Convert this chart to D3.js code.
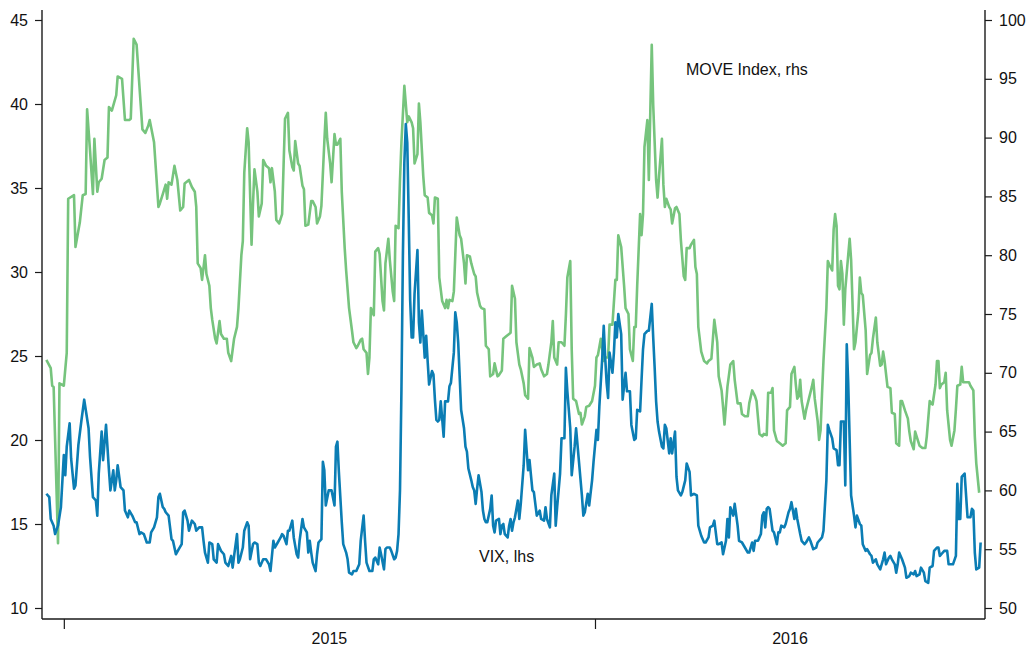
<!DOCTYPE html>
<html>
<head>
<meta charset="utf-8">
<script src="https://cdn.jsdelivr.net/npm/d3@7"></script>
<style>
  html, body { margin: 0; padding: 0; background: #fff; }
  svg { display: block; }
  text { font-family: "Liberation Sans", Arial, Helvetica, sans-serif; }
</style>
</head>
<body>
<svg id="chart" width="1027" height="648"></svg>
<script>
// VIX, daily (left-hand scale)
const vixDates = [
  "2014-12-20","2014-12-22","2014-12-23","2014-12-25","2014-12-26","2014-12-28","2014-12-30","2015-01-01","2015-01-02","2015-01-03",
  "2015-01-05","2015-01-06","2015-01-08","2015-01-09","2015-01-11","2015-01-13","2015-01-15","2015-01-18","2015-01-19","2015-01-21",
  "2015-01-23","2015-01-24","2015-01-25","2015-01-27","2015-01-28","2015-01-30","2015-02-01","2015-02-02","2015-02-04","2015-02-05",
  "2015-02-06","2015-02-07","2015-02-09","2015-02-11","2015-02-12","2015-02-14","2015-02-15","2015-02-17","2015-02-19","2015-02-20",
  "2015-02-22","2015-02-23","2015-02-25","2015-02-27","2015-03-01","2015-03-02","2015-03-04","2015-03-06","2015-03-07","2015-03-08",
  "2015-03-10","2015-03-11","2015-03-12","2015-03-14","2015-03-16","2015-03-17","2015-03-19","2015-03-21","2015-03-23","2015-03-24",
  "2015-03-25","2015-03-27","2015-03-28","2015-03-30","2015-04-01","2015-04-02","2015-04-04","2015-04-06","2015-04-07","2015-04-08",
  "2015-04-10","2015-04-11","2015-04-13","2015-04-14","2015-04-16","2015-04-17","2015-04-19","2015-04-21","2015-04-22","2015-04-24",
  "2015-04-26","2015-04-27","2015-04-28","2015-04-30","2015-05-01","2015-05-02","2015-05-04","2015-05-05","2015-05-07","2015-05-08",
  "2015-05-09","2015-05-11","2015-05-12","2015-05-14","2015-05-15","2015-05-16","2015-05-18","2015-05-20","2015-05-22","2015-05-23",
  "2015-05-25","2015-05-26","2015-05-28","2015-05-30","2015-05-31","2015-06-01","2015-06-03","2015-06-04","2015-06-05","2015-06-07",
  "2015-06-08","2015-06-10","2015-06-11","2015-06-12","2015-06-14","2015-06-15","2015-06-17","2015-06-18","2015-06-19","2015-06-20",
  "2015-06-21","2015-06-23","2015-06-24","2015-06-25","2015-06-27","2015-06-28","2015-06-29","2015-06-30","2015-07-02","2015-07-03",
  "2015-07-04","2015-07-06","2015-07-07","2015-07-08","2015-07-09","2015-07-11","2015-07-12","2015-07-14","2015-07-15","2015-07-16",
  "2015-07-18","2015-07-19","2015-07-21","2015-07-23","2015-07-24","2015-07-26","2015-07-27","2015-07-28","2015-07-30","2015-08-01",
  "2015-08-02","2015-08-03","2015-08-05","2015-08-06","2015-08-07","2015-08-09","2015-08-10","2015-08-11","2015-08-13","2015-08-14",
  "2015-08-16","2015-08-17","2015-08-18","2015-08-19","2015-08-20","2015-08-21","2015-08-22","2015-08-23","2015-08-24","2015-08-25",
  "2015-08-26","2015-08-27","2015-08-28","2015-08-29","2015-08-30","2015-09-01","2015-09-02","2015-09-03","2015-09-04","2015-09-06",
  "2015-09-07","2015-09-08","2015-09-09","2015-09-11","2015-09-12","2015-09-13","2015-09-14","2015-09-15","2015-09-16","2015-09-17",
  "2015-09-19","2015-09-20","2015-09-21","2015-09-22","2015-09-23","2015-09-24","2015-09-26","2015-09-27","2015-09-28","2015-09-29",
  "2015-09-30","2015-10-01","2015-10-03","2015-10-04","2015-10-05","2015-10-06","2015-10-08","2015-10-09","2015-10-10","2015-10-11",
  "2015-10-12","2015-10-13","2015-10-15","2015-10-16","2015-10-17","2015-10-18","2015-10-19","2015-10-21","2015-10-22","2015-10-23",
  "2015-10-24","2015-10-25","2015-10-27","2015-10-28","2015-10-29","2015-10-30","2015-10-31","2015-11-02","2015-11-03","2015-11-04",
  "2015-11-05","2015-11-06","2015-11-07","2015-11-09","2015-11-10","2015-11-11","2015-11-13","2015-11-14","2015-11-16","2015-11-17",
  "2015-11-19","2015-11-20","2015-11-22","2015-11-24","2015-11-25","2015-11-27","2015-11-28","2015-11-29","2015-12-01","2015-12-02",
  "2015-12-04","2015-12-05","2015-12-06","2015-12-08","2015-12-09","2015-12-11","2015-12-12","2015-12-13","2015-12-15","2015-12-16",
  "2015-12-18","2015-12-19","2015-12-21","2015-12-23","2015-12-24","2015-12-25","2015-12-27","2015-12-28","2015-12-30","2015-12-31",
  "2016-01-02","2016-01-03","2016-01-04","2016-01-06","2016-01-07","2016-01-08","2016-01-09","2016-01-10","2016-01-11","2016-01-13",
  "2016-01-14","2016-01-15","2016-01-16","2016-01-17","2016-01-19","2016-01-20","2016-01-22","2016-01-23","2016-01-25","2016-01-26",
  "2016-01-28","2016-01-29","2016-01-30","2016-02-01","2016-02-02","2016-02-03","2016-02-04","2016-02-06","2016-02-07","2016-02-09",
  "2016-02-10","2016-02-11","2016-02-12","2016-02-13","2016-02-14","2016-02-16","2016-02-17","2016-02-18","2016-02-19","2016-02-21",
  "2016-02-22","2016-02-23","2016-02-25","2016-02-26","2016-02-27","2016-02-29","2016-03-01","2016-03-03","2016-03-04","2016-03-06",
  "2016-03-07","2016-03-09","2016-03-11","2016-03-12","2016-03-14","2016-03-16","2016-03-17","2016-03-19","2016-03-20","2016-03-22",
  "2016-03-23","2016-03-25","2016-03-26","2016-03-28","2016-03-29","2016-03-31","2016-04-01","2016-04-02","2016-04-03","2016-04-05",
  "2016-04-06","2016-04-08","2016-04-09","2016-04-11","2016-04-13","2016-04-15","2016-04-16","2016-04-18","2016-04-19","2016-04-20",
  "2016-04-22","2016-04-24","2016-04-25","2016-04-26","2016-04-27","2016-04-28","2016-04-29","2016-04-30","2016-05-02","2016-05-03",
  "2016-05-05","2016-05-06","2016-05-07","2016-05-08","2016-05-10","2016-05-11","2016-05-13","2016-05-14","2016-05-15","2016-05-17",
  "2016-05-18","2016-05-19","2016-05-21","2016-05-22","2016-05-24","2016-05-25","2016-05-27","2016-05-28","2016-05-30","2016-06-01",
  "2016-06-02","2016-06-04","2016-06-05","2016-06-06","2016-06-08","2016-06-09","2016-06-10","2016-06-12","2016-06-13","2016-06-15",
  "2016-06-16","2016-06-17","2016-06-18","2016-06-20","2016-06-21","2016-06-22","2016-06-23","2016-06-24","2016-06-25","2016-06-27",
  "2016-06-28","2016-06-29","2016-07-01","2016-07-02","2016-07-03","2016-07-05","2016-07-06","2016-07-08","2016-07-09","2016-07-10",
  "2016-07-12","2016-07-13","2016-07-15","2016-07-17","2016-07-18","2016-07-19","2016-07-21","2016-07-22","2016-07-23","2016-07-25",
  "2016-07-26","2016-07-27","2016-07-28","2016-07-30","2016-08-01","2016-08-02","2016-08-04","2016-08-05","2016-08-07","2016-08-08",
  "2016-08-09","2016-08-11","2016-08-12","2016-08-14","2016-08-15","2016-08-17","2016-08-18","2016-08-20","2016-08-21","2016-08-23",
  "2016-08-24","2016-08-25","2016-08-26","2016-08-28","2016-08-30","2016-08-31","2016-09-02","2016-09-03","2016-09-05","2016-09-06",
  "2016-09-07","2016-09-08","2016-09-09","2016-09-11","2016-09-12","2016-09-13","2016-09-15","2016-09-16","2016-09-17","2016-09-18",
  "2016-09-19","2016-09-21","2016-09-22"
];
const vixValues = [
  16.8,16.6,15.3,14.9,14.4,14.9,16.0,19.1,17.9,19.6,
  21.0,18.9,17.1,17.3,19.7,21.1,22.4,20.7,19.0,16.6,
  16.4,15.5,18.0,20.5,18.8,20.9,18.2,17.0,18.2,17.0,
  17.6,18.5,17.2,17.0,15.8,15.4,15.8,15.5,15.1,15.1,
  14.4,14.5,14.4,13.9,13.9,14.5,14.8,15.4,16.6,16.8,
  16.0,15.9,15.7,15.5,14.1,14.0,13.2,13.5,13.8,15.7,
  15.8,15.2,14.6,15.2,15.0,14.6,14.8,14.8,14.0,13.3,
  12.7,13.9,13.8,12.9,12.7,13.8,13.4,13.2,12.7,12.5,
  13.1,12.4,13.1,14.4,12.7,12.9,13.6,14.6,15.1,14.9,
  12.9,13.8,13.9,13.8,12.7,12.5,12.9,12.9,12.6,12.2,
  14.0,13.6,13.9,14.2,14.4,14.3,13.8,14.6,14.6,15.2,
  14.2,13.2,13.0,14.0,15.3,14.8,14.5,13.3,14.0,13.3,
  12.7,12.2,13.2,13.9,14.1,18.7,18.2,16.1,17.0,17.0,
  17.0,16.1,19.6,19.9,18.1,15.1,13.8,13.3,12.9,12.1,
  12.0,12.2,12.2,12.6,14.0,15.5,14.0,12.7,12.2,12.2,
  12.9,13.0,12.6,13.6,13.2,12.3,13.5,13.6,13.6,13.4,
  12.9,13.0,13.4,14.4,17.0,23.0,31.0,36.5,38.8,37.7,
  33.2,28.3,26.1,26.1,28.7,31.3,27.0,25.8,27.7,24.9,
  26.2,24.7,23.3,24.1,23.9,22.4,21.2,21.1,21.2,22.3,
  20.2,22.3,22.3,22.3,23.2,23.4,25.2,27.6,27.0,25.8,
  23.8,21.8,20.7,19.6,19.3,18.3,17.6,17.2,17.0,16.2,
  17.1,17.9,16.9,15.8,15.3,15.1,15.1,15.9,16.7,14.9,
  14.5,15.2,15.3,14.4,14.9,15.0,14.4,14.2,14.9,15.3,
  14.6,15.1,15.4,16.4,15.3,16.2,18.5,20.6,18.2,18.8,
  17.0,16.9,15.5,15.8,15.3,15.2,16.0,15.3,14.8,16.7,
  18.0,14.9,16.0,18.0,20.1,20.1,24.3,22.9,20.7,17.9,
  19.6,20.7,18.7,16.7,15.5,15.7,16.8,16.1,17.6,18.7,
  20.6,20.0,22.0,24.9,26.8,24.9,23.4,22.5,25.2,24.0,
  25.2,27.0,26.1,27.5,26.3,22.4,24.0,22.9,22.9,20.9,
  20.0,20.1,21.8,21.7,23.6,25.4,26.3,26.5,26.5,28.1,
  26.1,24.3,22.3,21.1,20.5,19.6,19.5,20.9,20.7,19.2,
  20.1,19.2,20.5,17.8,17.0,16.7,16.9,17.6,18.6,18.1,
  16.7,16.8,16.7,14.9,14.3,13.9,13.9,14.2,14.8,14.9,
  15.2,13.8,13.8,13.9,13.2,14.0,15.3,14.2,16.0,15.5,
  16.2,14.9,14.0,13.9,13.6,13.3,13.3,13.9,13.4,14.0,
  14.0,14.4,15.5,15.7,14.8,15.9,16.0,15.9,14.6,14.5,
  13.8,14.5,14.5,14.9,14.8,15.0,15.7,15.9,16.3,15.3,
  15.9,15.3,14.4,14.0,13.8,13.9,14.2,14.0,13.5,13.6,
  13.9,14.1,14.2,14.6,17.6,20.9,20.6,20.1,19.5,19.4,
  18.5,18.5,21.1,21.1,17.3,25.7,23.4,20.0,16.7,15.5,
  14.8,15.5,15.0,14.9,13.8,13.4,13.5,13.2,13.1,12.7,
  12.9,12.6,12.3,12.9,13.3,12.6,13.0,13.1,12.9,12.6,
  12.1,12.6,13.3,12.9,12.4,11.8,11.9,12.1,12.0,12.2,
  11.9,12.0,12.4,12.1,11.6,11.5,12.4,12.5,13.4,13.6,
  13.6,13.1,13.2,13.4,13.4,12.6,12.6,12.6,13.1,17.4,
  15.3,15.3,17.8,18.0,16.7,15.4,15.4,15.9,15.8,13.3,
  12.3,12.4,13.9
];

// MOVE Index, daily (right-hand scale)
const moveDates = [
  "2014-12-20","2014-12-23","2014-12-24","2014-12-25","2014-12-28","2014-12-29","2015-01-01","2015-01-03","2015-01-04","2015-01-08",
  "2015-01-09","2015-01-12","2015-01-14","2015-01-16","2015-01-17","2015-01-19","2015-01-21","2015-01-22","2015-01-24","2015-01-25",
  "2015-01-27","2015-01-29","2015-01-31","2015-02-01","2015-02-03","2015-02-06","2015-02-07","2015-02-10","2015-02-12","2015-02-15",
  "2015-02-16","2015-02-18","2015-02-20","2015-02-24","2015-02-26","2015-02-28","2015-03-01","2015-03-04","2015-03-07","2015-03-08",
  "2015-03-10","2015-03-12","2015-03-13","2015-03-14","2015-03-16","2015-03-18","2015-03-20","2015-03-22","2015-03-24","2015-03-25",
  "2015-03-28","2015-03-30","2015-04-01","2015-04-02","2015-04-03","2015-04-05","2015-04-06","2015-04-08","2015-04-09","2015-04-11",
  "2015-04-12","2015-04-13","2015-04-15","2015-04-16","2015-04-18","2015-04-19","2015-04-21","2015-04-23","2015-04-24","2015-04-26",
  "2015-04-28","2015-04-30","2015-05-01","2015-05-03","2015-05-04","2015-05-05","2015-05-07","2015-05-08","2015-05-10","2015-05-11",
  "2015-05-12","2015-05-14","2015-05-15","2015-05-17","2015-05-18","2015-05-20","2015-05-22","2015-05-23","2015-05-24","2015-05-26",
  "2015-05-27","2015-05-29","2015-05-31","2015-06-01","2015-06-02","2015-06-04","2015-06-05","2015-06-07","2015-06-08","2015-06-09",
  "2015-06-11","2015-06-12","2015-06-14","2015-06-15","2015-06-16","2015-06-18","2015-06-20","2015-06-21","2015-06-23","2015-06-24",
  "2015-06-26","2015-06-27","2015-06-29","2015-06-30","2015-07-01","2015-07-03","2015-07-04","2015-07-06","2015-07-07","2015-07-08",
  "2015-07-10","2015-07-11","2015-07-13","2015-07-14","2015-07-16","2015-07-18","2015-07-19","2015-07-21","2015-07-22","2015-07-24",
  "2015-07-25","2015-07-26","2015-07-28","2015-07-29","2015-07-30","2015-07-31","2015-08-02","2015-08-03","2015-08-05","2015-08-06",
  "2015-08-08","2015-08-09","2015-08-10","2015-08-12","2015-08-13","2015-08-15","2015-08-16","2015-08-17","2015-08-19","2015-08-20",
  "2015-08-21","2015-08-23","2015-08-25","2015-08-26","2015-08-28","2015-08-29","2015-08-30","2015-09-01","2015-09-02","2015-09-03",
  "2015-09-05","2015-09-06","2015-09-08","2015-09-09","2015-09-11","2015-09-12","2015-09-13","2015-09-15","2015-09-16","2015-09-18",
  "2015-09-20","2015-09-21","2015-09-22","2015-09-23","2015-09-25","2015-09-26","2015-09-27","2015-09-28","2015-09-30","2015-10-01",
  "2015-10-03","2015-10-04","2015-10-05","2015-10-07","2015-10-08","2015-10-10","2015-10-11","2015-10-12","2015-10-14","2015-10-15",
  "2015-10-17","2015-10-18","2015-10-20","2015-10-21","2015-10-23","2015-10-24","2015-10-26","2015-10-27","2015-10-29","2015-10-30",
  "2015-11-01","2015-11-03","2015-11-04","2015-11-05","2015-11-07","2015-11-08","2015-11-10","2015-11-11","2015-11-13","2015-11-14",
  "2015-11-16","2015-11-17","2015-11-19","2015-11-20","2015-11-22","2015-11-24","2015-11-25","2015-11-27","2015-11-29","2015-11-30",
  "2015-12-02","2015-12-03","2015-12-04","2015-12-06","2015-12-07","2015-12-09","2015-12-11","2015-12-12","2015-12-13","2015-12-15",
  "2015-12-16","2015-12-17","2015-12-19","2015-12-21","2015-12-22","2015-12-23","2015-12-25","2015-12-26","2015-12-28","2015-12-30",
  "2016-01-01","2016-01-02","2016-01-03","2016-01-05","2016-01-07","2016-01-08","2016-01-10","2016-01-11","2016-01-13","2016-01-15",
  "2016-01-16","2016-01-17","2016-01-19","2016-01-21","2016-01-22","2016-01-24","2016-01-25","2016-01-27","2016-01-28","2016-01-29",
  "2016-01-30","2016-02-01","2016-02-02","2016-02-03","2016-02-04","2016-02-06","2016-02-07","2016-02-09","2016-02-10","2016-02-12",
  "2016-02-13","2016-02-14","2016-02-16","2016-02-17","2016-02-18","2016-02-19","2016-02-21","2016-02-22","2016-02-23","2016-02-25",
  "2016-02-26","2016-02-28","2016-02-29","2016-03-02","2016-03-03","2016-03-04","2016-03-06","2016-03-07","2016-03-09","2016-03-10",
  "2016-03-11","2016-03-12","2016-03-14","2016-03-16","2016-03-18","2016-03-19","2016-03-21","2016-03-23","2016-03-25","2016-03-26",
  "2016-03-28","2016-03-29","2016-03-30","2016-04-01","2016-04-03","2016-04-05","2016-04-06","2016-04-08","2016-04-10","2016-04-11",
  "2016-04-13","2016-04-15","2016-04-16","2016-04-18","2016-04-20","2016-04-21","2016-04-23","2016-04-25","2016-04-26","2016-04-28",
  "2016-04-29","2016-05-01","2016-05-02","2016-05-03","2016-05-05","2016-05-07","2016-05-09","2016-05-11","2016-05-12","2016-05-14",
  "2016-05-15","2016-05-17","2016-05-18","2016-05-19","2016-05-20","2016-05-21","2016-05-22","2016-05-24","2016-05-25","2016-05-27",
  "2016-05-29","2016-05-30","2016-05-31","2016-06-02","2016-06-03","2016-06-04","2016-06-05","2016-06-06","2016-06-08","2016-06-09",
  "2016-06-10","2016-06-12","2016-06-13","2016-06-14","2016-06-15","2016-06-16","2016-06-17","2016-06-18","2016-06-19","2016-06-20",
  "2016-06-21","2016-06-23","2016-06-24","2016-06-25","2016-06-27","2016-06-28","2016-06-30","2016-07-01","2016-07-02","2016-07-03",
  "2016-07-05","2016-07-06","2016-07-08","2016-07-09","2016-07-10","2016-07-12","2016-07-13","2016-07-15","2016-07-16","2016-07-17",
  "2016-07-18","2016-07-20","2016-07-22","2016-07-23","2016-07-25","2016-07-26","2016-07-28","2016-07-29","2016-07-30","2016-08-01",
  "2016-08-03","2016-08-04","2016-08-05","2016-08-07","2016-08-08","2016-08-09","2016-08-11","2016-08-13","2016-08-15","2016-08-16",
  "2016-08-18","2016-08-19","2016-08-20","2016-08-22","2016-08-23","2016-08-24","2016-08-25","2016-08-26","2016-08-28","2016-08-29",
  "2016-08-30","2016-09-01","2016-09-02","2016-09-04","2016-09-05","2016-09-06","2016-09-08","2016-09-09","2016-09-10","2016-09-12",
  "2016-09-14","2016-09-15","2016-09-17","2016-09-18","2016-09-19","2016-09-21"
];
const moveValues = [
  71.1,70.4,68.9,68.8,55.5,69.1,68.9,71.7,84.8,85.1,
  80.7,82.8,85.1,85.2,92.4,88.9,85.2,89.9,85.4,86.2,
  86.5,88.1,88.3,92.6,92.3,93.6,95.2,95.0,91.5,91.5,
  91.6,98.4,97.9,90.7,90.4,91.0,91.5,89.6,84.1,84.4,
  85.2,86.0,84.8,86.2,86.0,87.6,86.4,83.8,84.1,86.1,
  86.4,85.8,85.4,84.1,79.3,78.9,77.9,80.0,78.4,77.4,
  75.5,74.5,72.9,72.5,74.4,73.3,72.9,72.9,71.7,71.0,
  72.9,73.9,75.5,80.0,81.2,87.0,90.8,89.6,80.9,84.4,
  87.3,85.4,83.3,84.4,88.1,87.6,87.4,86.2,87.4,85.4,
  83.0,82.7,83.5,87.6,91.6,92.1,88.9,87.5,87.2,89.7,
  87.8,87.6,85.9,85.6,82.5,82.6,84.6,84.6,84.1,82.7,
  83.3,84.2,89.6,92.1,89.9,87.8,86.2,90.3,89.4,89.4,
  89.9,85.4,80.6,78.7,75.5,73.6,72.6,72.1,72.3,72.8,
  72.9,72.0,71.7,69.9,71.3,75.5,74.9,80.3,80.6,80.1,
  76.1,75.3,79.3,81.4,79.6,76.9,76.1,82.5,82.3,86.4,
  89.6,94.4,91.3,91.8,91.3,90.8,87.8,88.6,92.9,91.3,
  86.7,85.1,84.9,83.6,83.4,82.7,84.9,84.8,78.1,76.1,
  75.5,76.2,75.5,76.2,76.1,76.9,80.0,83.2,81.7,81.4,
  79.3,77.6,80.0,79.9,79.3,78.4,78.2,76.8,75.7,75.5,
  75.4,72.3,72.0,69.7,69.9,70.8,69.7,69.8,70.2,72.9,
  73.1,73.3,73.4,77.4,76.3,72.6,70.7,70.3,69.1,68.1,
  67.8,72.1,71.3,70.5,70.7,70.8,70.3,69.7,69.9,70.7,
  72.6,74.4,71.3,70.7,72.6,72.6,72.3,74.9,78.1,79.5,
  72.0,67.8,67.6,66.5,66.6,65.6,66.3,67.1,67.2,67.6,
  68.9,71.3,71.5,72.9,71.0,71.3,71.3,74.1,74.1,77.9,
  77.9,81.7,80.7,77.4,75.5,75.0,72.0,71.0,73.9,73.9,
  77.4,83.5,81.7,83.5,89.2,91.5,86.4,97.9,92.8,86.4,
  84.9,86.7,89.9,86.0,84.1,84.8,84.1,83.9,82.7,84.0,
  84.1,83.5,81.3,78.2,77.9,80.6,80.6,80.9,81.3,79.0,
  78.4,73.9,71.8,71.0,70.8,71.0,71.2,74.5,72.6,69.7,
  68.5,67.1,65.6,68.8,70.7,71.0,69.4,67.4,67.4,66.5,
  66.3,66.3,67.4,68.5,68.0,67.6,64.8,64.6,64.8,64.7,
  68.3,68.3,68.7,65.1,64.2,64.0,63.8,64.0,66.8,67.1,
  69.9,70.5,69.0,67.8,68.0,69.4,67.6,66.1,66.8,67.8,
  68.8,69.4,67.8,65.9,64.3,65.1,68.2,71.0,75.5,79.5,
  79.2,78.7,82.2,83.5,82.5,77.4,77.1,79.5,78.4,74.1,
  77.1,80.0,81.4,79.6,72.0,72.6,75.2,78.1,76.8,76.6,
  73.6,69.9,71.5,71.7,72.9,74.7,72.6,70.6,70.7,71.8,
  71.0,68.8,68.7,66.6,66.5,64.0,63.8,67.6,67.6,66.8,
  66.1,65.0,64.2,63.5,65.0,64.6,63.8,63.6,63.6,64.6,
  67.6,67.4,67.3,69.0,71.0,71.0,68.7,69.0,69.2,70.0,
  66.8,64.3,63.8,65.1,66.9,68.9,69.0,70.5,69.2,69.2,
  69.2,68.9,68.5,64.6,62.3,59.8
];

// Axis ticks and labels
const leftTicks  = [10, 15, 20, 25, 30, 35, 40, 45];
const rightTicks = [50, 55, 60, 65, 70, 75, 80, 85, 90, 95, 100];
const yearTicks  = ["2015-01-01", "2016-01-01"];
const yearLabels = ["2015", "2016"];
const seriesLabels = ["VIX, lhs", "MOVE Index, rhs"];
const timeSpan = ["2014-12-17", "2016-09-25"];

const colors = { vix: "#0b7db4", move: "#76c47d", axis: "#1a1a1a", text: "#111" };

const svg = d3.select("#chart");
const frame = { left: 42, right: 985, top: 10, bottom: 619 };
const parse = d3.timeParse("%Y-%m-%d");

const x = d3.scaleTime()
  .domain(timeSpan.map(parse))
  .range([frame.left, frame.right]);
const yL = d3.scaleLinear().domain([10, 45]).range([608, 20]);
const yR = d3.scaleLinear().domain([50, 100]).range([608, 20]);

const vix  = d3.zip(vixDates, vixValues).map(([d, v]) => ({ date: parse(d), value: v }));
const move = d3.zip(moveDates, moveValues).map(([d, v]) => ({ date: parse(d), value: v }));

// Lines: MOVE underneath, VIX on top
const lineR = d3.line().x(d => x(d.date)).y(d => yR(d.value));
const lineL = d3.line().x(d => x(d.date)).y(d => yL(d.value));

svg.append("path").datum(move)
  .attr("d", lineR)
  .attr("fill", "none")
  .attr("stroke", colors.move)
  .attr("stroke-width", 2.6)
  .attr("stroke-linejoin", "round");

svg.append("path").datum(vix)
  .attr("d", lineL)
  .attr("fill", "none")
  .attr("stroke", colors.vix)
  .attr("stroke-width", 2.6)
  .attr("stroke-linejoin", "round");

// Left axis (VIX)
const gL = svg.append("g").attr("transform", `translate(${frame.left},0)`)
  .call(d3.axisLeft(yL).tickValues(leftTicks).tickSize(7).tickPadding(7).tickSizeOuter(0));
// Right axis (MOVE)
const gR = svg.append("g").attr("transform", `translate(${frame.right},0)`)
  .call(d3.axisRight(yR).tickValues(rightTicks).tickSize(7).tickPadding(7).tickSizeOuter(0));
// Bottom axis: year boundaries
const gB = svg.append("g").attr("transform", `translate(0,${frame.bottom})`)
  .call(d3.axisBottom(x).tickValues(yearTicks.map(parse)).tickSize(10).tickFormat(""));

[gL, gR, gB].forEach(g => {
  g.select(".domain").remove();
  g.selectAll(".tick line").attr("stroke", colors.axis).attr("stroke-width", 1.2);
  g.selectAll(".tick text")
    .attr("fill", colors.text)
    .style("font-size", "16px")
    .style("font-family", '"Liberation Sans", Arial, sans-serif');
});

// Frame lines for the three axes
svg.append("line")
  .attr("x1", frame.left).attr("x2", frame.left)
  .attr("y1", frame.top).attr("y2", frame.bottom)
  .attr("stroke", colors.axis).attr("stroke-width", 1.4);
svg.append("line")
  .attr("x1", frame.right).attr("x2", frame.right)
  .attr("y1", frame.top).attr("y2", frame.bottom)
  .attr("stroke", colors.axis).attr("stroke-width", 1.4);
svg.append("line")
  .attr("x1", frame.left).attr("x2", frame.right)
  .attr("y1", frame.bottom).attr("y2", frame.bottom)
  .attr("stroke", colors.axis).attr("stroke-width", 1.4);

// Year labels centred on the visible part of each year
const domainEnd = x.domain()[1];
yearLabels.forEach((label, i) => {
  const start = parse(yearTicks[i]);
  const end = new Date(Math.min(d3.timeYear.offset(start, 1), domainEnd));
  svg.append("text")
    .attr("x", (x(start) + x(end)) / 2)
    .attr("y", 644)
    .attr("text-anchor", "middle")
    .attr("fill", colors.text)
    .style("font-size", "16px")
    .text(label);
});

// Series labels
svg.append("text")
  .attr("x", 479).attr("y", 562)
  .attr("fill", colors.text)
  .style("font-size", "16px")
  .text(seriesLabels[0]);
svg.append("text")
  .attr("x", 686).attr("y", 75)
  .attr("fill", colors.text)
  .style("font-size", "16px")
  .text(seriesLabels[1]);
</script>
</body>
</html>
